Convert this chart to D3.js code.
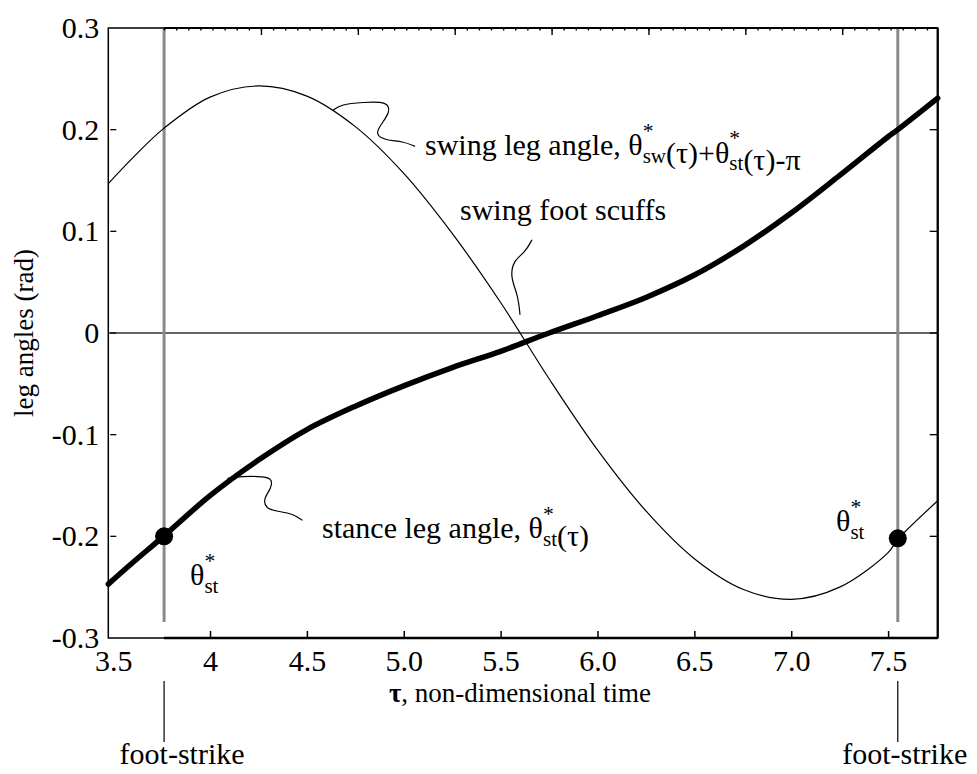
<!DOCTYPE html>
<html>
<head>
<meta charset="utf-8">
<script src="https://cdn.jsdelivr.net/npm/d3@7"></script>
<style>
  html, body { margin: 0; padding: 0; background: #fff; }
  svg { display: block; }
  text { font-family: "Liberation Serif", "Times New Roman", serif; fill: #000; white-space: pre; }
</style>
</head>
<body>
<svg id="chart" width="977" height="774"></svg>
<script>
// Non-dimensional time samples and leg angles (rad) over one step
const tau = [3.475, 3.6, 3.76, 4.0, 4.25, 4.5, 4.75, 5.0, 5.25, 5.5, 5.75, 6.0, 6.25, 6.5, 6.75, 7.0, 7.25, 7.5, 7.55, 7.756];
const stanceAngle = [-0.247, -0.226, -0.200, -0.160, -0.125, -0.095, -0.072, -0.052, -0.034, -0.018, 0.000, 0.017, 0.035, 0.057, 0.085, 0.118, 0.155, 0.193, 0.200, 0.231];
const swingAngle = [0.147, 0.172, 0.201, 0.232, 0.243, 0.233, 0.203, 0.157, 0.098, 0.030, -0.045, -0.115, -0.175, -0.222, -0.252, -0.262, -0.250, -0.216, -0.203, -0.165];

// Foot-strike instants and the stance angle at those instants
const footStrikeTau = [3.763, 7.55];
const footStrikeAngle = [-0.200, -0.202];

// Axis ticks
const xTicks = [3.5, 4, 4.5, 5.0, 5.5, 6.0, 6.5, 7.0, 7.5];
const xTickLabels = ["3.5", "4", "4.5", "5.0", "5.5", "6.0", "6.5", "7.0", "7.5"];
const yTicks = [-0.3, -0.2, -0.1, 0, 0.1, 0.2, 0.3];
const yTickLabels = ["-0.3", "-0.2", "-0.1", "0", "0.1", "0.2", "0.3"];

const svg = d3.select("#chart");
const x = d3.scaleLinear().domain([3.475, 7.756]).range([108.3, 937.7]);
const y = d3.scaleLinear().domain([-0.3, 0.3]).range([638, 28]);
const [xl, xr] = x.range();
const [yb, yt] = y.range();

// zero reference line
svg.append("line")
  .attr("x1", xl).attr("x2", xr).attr("y1", y(0)).attr("y2", y(0))
  .attr("stroke", "#333").attr("stroke-width", 1.3);

// foot-strike markers (gray verticals)
footStrikeTau.forEach(t => {
  svg.append("line")
    .attr("x1", x(t)).attr("x2", x(t)).attr("y1", yt).attr("y2", 622)
    .attr("stroke", "#8a8a8a").attr("stroke-width", 3);
});

// frame
svg.append("rect")
  .attr("x", xl).attr("y", yt).attr("width", xr - xl).attr("height", yb - yt)
  .attr("fill", "none").attr("stroke", "#000").attr("stroke-width", 1.5);
svg.append("line").attr("x1", x(footStrikeTau[0])).attr("x2", xr)
  .attr("y1", yb).attr("y2", yb).attr("stroke", "#000").attr("stroke-width", 2.5);
svg.append("line").attr("x1", x(footStrikeTau[0])).attr("x2", xr)
  .attr("y1", yt).attr("y2", yt).attr("stroke", "#000").attr("stroke-width", 2);
svg.append("line").attr("x1", xr).attr("x2", xr)
  .attr("y1", yt).attr("y2", yb).attr("stroke", "#000").attr("stroke-width", 2.2);

// bottom axis: inward ticks
const bottomAxis = d3.axisBottom(x)
  .tickValues(xTicks)
  .tickFormat((d, i) => xTickLabels[i])
  .tickSizeInner(-7).tickSizeOuter(0).tickPadding(12);
const gb = svg.append("g").attr("transform", `translate(0,${yb})`).call(bottomAxis);
gb.select(".domain").remove();
gb.selectAll(".tick line").attr("stroke", "#000").attr("stroke-width", 1.5)
  .filter(d => d === 3.5).remove();
gb.selectAll(".tick text").attr("font-size", 30).attr("font-family", "Liberation Serif").attr("fill", "#000");

// top axis: time since foot-strike, majors every 0.5, minors every 1/16
const topMajor = d3.range(0, 8).map(k => footStrikeTau[0] + 0.5 * k).filter(t => t < 7.75);
const topMinor = d3.range(0, 64).map(k => footStrikeTau[0] + 0.0625 * k).filter(t => t < 7.75);
const topAxisMinor = d3.axisTop(x).tickValues(topMinor).tickSizeInner(-2.5).tickSizeOuter(0).tickFormat("");
const topAxisMajor = d3.axisTop(x).tickValues(topMajor.slice(1)).tickSizeInner(-7).tickSizeOuter(0).tickFormat("");
[topAxisMinor, topAxisMajor].forEach(ax => {
  const g = svg.append("g").attr("transform", `translate(0,${yt})`).call(ax);
  g.select(".domain").remove();
  g.selectAll(".tick line").attr("stroke", "#000").attr("stroke-width", 1.4);
});

// left axis with labels, right axis mirrored ticks
const leftAxis = d3.axisLeft(y)
  .tickValues(yTicks)
  .tickFormat((d, i) => yTickLabels[i])
  .tickSizeInner(0).tickSizeOuter(0).tickPadding(9);
const gl = svg.append("g").attr("transform", `translate(${xl},0)`).call(leftAxis);
gl.select(".domain").remove();
gl.selectAll(".tick text").attr("font-size", 30).attr("font-family", "Liberation Serif").attr("fill", "#000");
const innerY = yTicks.slice(1, -1);
svg.append("g").selectAll("line").data(innerY).join("line")
  .attr("x1", xl + 2).attr("x2", xl + 8).attr("y1", d => y(d)).attr("y2", d => y(d))
  .attr("stroke", "#000").attr("stroke-width", 1.3);
svg.append("g").selectAll("line").data(innerY).join("line")
  .attr("x1", xr - 8).attr("x2", xr).attr("y1", d => y(d)).attr("y2", d => y(d))
  .attr("stroke", "#000").attr("stroke-width", 1.3);

// curves
const line = vals => d3.line().x((d, i) => x(tau[i])).y(d => y(d)).curve(d3.curveCatmullRom.alpha(0.5))(vals);
svg.append("path").attr("d", line(swingAngle))
  .attr("fill", "none").attr("stroke", "#000").attr("stroke-width", 1.2);
svg.append("path").attr("d", line(stanceAngle))
  .attr("fill", "none").attr("stroke", "#000").attr("stroke-width", 5.5).attr("stroke-linecap", "round");

// foot-strike dots
svg.append("g").selectAll("circle").data(footStrikeTau).join("circle")
  .attr("cx", d => x(d)).attr("cy", (d, i) => y(footStrikeAngle[i])).attr("r", 9).attr("fill", "#000");

// axis titles
svg.append("text").attr("transform", `translate(33,${y(0)}) rotate(-90)`)
  .attr("text-anchor", "middle").attr("font-size", 27).text("leg angles (rad)");
const xt = svg.append("text").attr("x", 520).attr("y", 702).attr("text-anchor", "middle").attr("font-size", 27);
xt.append("tspan").attr("font-weight", "bold").text("τ");
xt.append("tspan").text(", non-dimensional time");

// foot-strike callouts under the axis
footStrikeTau.forEach((t, i) => {
  svg.append("line").attr("x1", x(t)).attr("x2", x(t)).attr("y1", 681).attr("y2", 742)
    .attr("stroke", "#000").attr("stroke-width", 1.2);
  svg.append("text").attr("x", x(t) + (i === 0 ? 18 : 7)).attr("y", 764)
    .attr("text-anchor", "middle").attr("font-size", 30).text("foot-strike");
});

// one text element per label; θ carries a stacked "*" superscript and a subscript
const LABEL = 30;
const starSize = LABEL * 0.72, subSize = LABEL * 0.7;
const starWidth = (() => {
  const probe = svg.append("text").attr("font-size", starSize).text("*");
  const w = probe.node().getComputedTextLength();
  probe.remove();
  return w;
})();
function mathText(xPos, yPos, parts, size) {
  const t = svg.append("text").attr("x", xPos).attr("y", yPos).attr("font-size", size);
  const up = size * 0.57, down = size * 0.25;
  parts.forEach(p => {
    if (p.theta) {
      t.append("tspan").text("θ");
      t.append("tspan").attr("dy", -up).attr("font-size", starSize).text("*");
      t.append("tspan").attr("dx", -starWidth).attr("dy", up + down).attr("font-size", subSize).text(p.theta);
      t.append("tspan").attr("dy", -down).attr("font-size", size).text("");
    } else {
      t.append("tspan").text(p.text);
    }
  });
  return t;
}

mathText(425, 155, [{text: "swing leg angle, "}, {theta: "sw"}, {text: "(τ)+"}, {theta: "st"}, {text: "(τ)-π"}], LABEL);
svg.append("text").attr("x", 460).attr("y", 220).attr("font-size", LABEL).text("swing foot scuffs");
mathText(322, 538, [{text: "stance leg angle, "}, {theta: "st"}, {text: "(τ)"}], LABEL);
mathText(190, 585, [{theta: "st"}], LABEL);
mathText(836, 531, [{theta: "st"}], LABEL);

// squiggle leaders from labels to curves
const leader = d3.line().curve(d3.curveBasis);
function squiggle(t, v, pts) {
  const x0 = x(t), y0 = y(v);
  svg.append("path").attr("d", leader(pts.map(p => [x0 + p[0], y0 + p[1]])))
    .attr("fill", "none").attr("stroke", "#000").attr("stroke-width", 1.2);
}
squiggle(4.635, 0.219, [[0, 0], [8, -6], [30, -8], [55, -9], [57, 2], [48, 14], [42, 24], [52, 30], [70, 31], [82, 36]]);
squiggle(4.09, -0.143, [[0, 0], [15, -2], [30, -2], [45, -1], [44, 10], [36, 20], [38, 30], [50, 33], [65, 35], [75, 42]]);
squiggle(5.6, 0.018, [[0, 0], [-2, -20], [-10, -38], [-6, -55], [5, -62], [12, -75]]);
</script>
</body>
</html>
